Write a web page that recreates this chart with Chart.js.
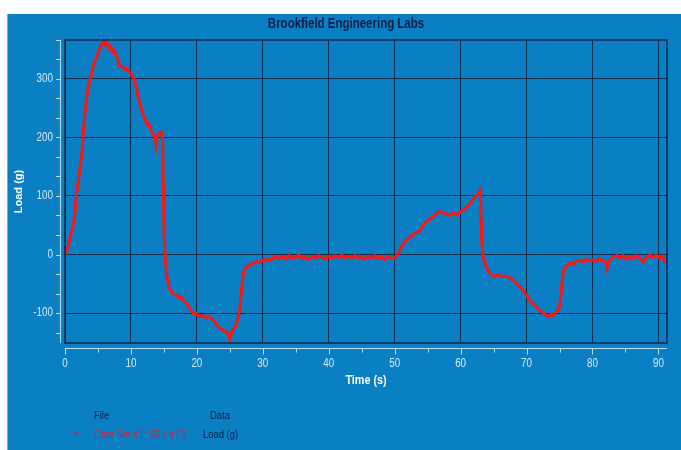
<!DOCTYPE html>
<html>
<head>
<meta charset="utf-8">
<script src="https://cdn.jsdelivr.net/npm/chart.js@4/dist/chart.umd.min.js"></script>
<style>
  html, body { margin: 0; padding: 0; background: #fff; }
  canvas { display: block; }
</style>
</head>
<body>
<canvas id="loadChart" width="681" height="450"></canvas>
<script>
// time (s) and load (g)
const times = [
  0, 0.4, 0.8, 1.2, 1.5, 1.7, 2.0, 2.3, 2.5, 2.8, 3.0, 3.2, 3.5, 3.85, 4.2, 4.5, 4.9, 5.27, 5.5, 5.8,
  6.1, 6.3, 6.6, 6.9, 7.2, 7.5, 7.8, 8.1, 8.3, 8.7, 9.0, 9.3, 9.7, 10.1, 10.4, 10.6, 10.9, 11.1, 11.4, 11.8,
  12.1, 12.4, 12.7, 13.0, 13.35, 13.6, 13.8, 14.0, 14.3, 14.6, 14.8, 14.9, 15.0, 15.1, 15.3, 15.5, 15.8, 16.1, 16.4, 16.9,
  17.3, 17.7, 18.1, 18.5, 18.9, 19.4, 19.8, 20.3, 20.9, 21.4, 21.9, 22.5, 23.0, 23.5, 24.0, 24.5, 24.8, 25.0, 25.3, 25.7,
  26.0, 26.3, 26.5, 26.7, 26.9, 27.1, 27.5, 28.0, 28.5, 29.0, 29.5, 30.0, 30.5, 31.0, 31.5, 32.0,
  32.5, 33, 33.5, 34, 34.5, 35, 35.5, 36, 36.5, 37, 37.5, 38, 38.5, 39, 39.5, 40, 40.5, 41, 41.5, 42,
  42.5, 43, 43.5, 44, 44.5, 45, 45.5, 46, 46.5, 47, 47.5, 48, 48.5, 49, 49.5, 50,
  50.5, 51.0, 51.3, 51.8, 52.3, 52.8, 53.3, 53.8, 54.3, 54.8, 55.3, 55.8, 56.3, 56.9, 57.4, 57.9, 58.4, 58.9, 59.4, 59.9,
  60.4, 60.9, 61.4, 61.9, 62.4, 62.8, 63.0, 63.1, 63.2, 63.4, 63.7, 63.9, 64.3, 64.7, 65.2, 65.6, 66.0, 66.5, 67.0, 67.5,
  68.0, 68.5, 69.0, 69.5, 70.0, 70.5, 71.0, 71.5, 72.0, 72.4, 72.8, 73.3, 73.7, 74.0, 74.3, 74.7, 75.0, 75.2, 75.4, 75.6,
  76.0, 76.6, 77.0, 77.5, 78.1, 78.6, 79.0, 79.5, 80.1, 80.5, 81.0, 81.5, 82.0, 82.2, 82.5, 83.0, 83.7, 84.2, 84.7, 85.2,
  85.7, 86.2, 86.7, 87.2, 87.7, 88.2, 88.7, 89.2, 89.7, 90.2, 90.6, 91.0
];
const loads = [
  0, 10, 30, 47, 70, 98, 125, 150, 164, 210, 240, 260, 285, 300, 318, 329, 340, 351, 358, 363,
  358, 362, 352, 356, 345, 348, 338, 330, 322, 320, 316, 318, 312, 306, 300, 294, 280, 268, 256, 240,
  232, 222, 224, 212, 206, 200, 186, 203, 206, 209, 200, 120, 50, 13, -20, -40, -58, -63, -68, -69,
  -74, -72, -80, -84, -92, -101, -99, -106, -104, -108, -105, -112, -120, -126, -130, -132, -138, -146, -130, -126,
  -118, -105, -95, -70, -45, -30, -21, -18, -15, -12, -14, -10, -8, -11, -6, -4,
  -7, -3, -8, -2, -6, -5, -1, -7, -4, -9, -3, -6, -2, -5, -8, -3, -6, -2, -5, -1,
  -6, -3, -7, -2, -5, -4, -8, -3, -6, -2, -7, -4, -9, -3, -7, -6,
  2, 12, 19, 24, 30, 34, 38, 41, 50, 56, 60, 64, 70, 73, 71, 69, 67, 71, 68, 72,
  76, 81, 87, 94, 101, 106, 110, 60, 24, -4, -15, -21, -30, -35, -38, -34, -36, -38, -37, -41,
  -44, -50, -55, -62, -70, -78, -84, -90, -95, -99, -102, -106, -102, -105, -100, -96, -89, -70, -45, -27,
  -20, -15, -17, -11, -10, -13, -8, -11, -9, -12, -7, -10, -14, -24, -10, -6, -1, -6, -2, -8,
  -4, -7, -2, -6, -13, -4, -1, -5, -1, -6, -3, -15
];

const xTickValues = [0, 10, 20, 30, 40, 50, 60, 70, 80, 90];
const yTickValues = [-100, 0, 100, 200, 300];
const xRange = [0, 91.3];
const yRange = [-151, 366];

const BLUE = '#0b7fc3';
const GRID = '#0c2a4c';
const AXIS = '#bfe0f2';
const TICKTXT = '#d8ecf8';
const NAVY = '#0b1f46';
const FAMILY = '"Liberation Sans", Arial, sans-serif';

// narrow text: Liberation Sans squeezed horizontally (no narrow face installed)
function narrowText(c, text, x, y, align, font, color, sx) {
    c.save();
    c.font = font;
    c.fillStyle = color;
    c.textBaseline = 'middle';
    c.textAlign = align;
    c.translate(x, y);
    c.scale(sx || 0.82, 1);
    c.fillText(text, 0, 0);
    c.restore();
}

const frame = {
    id: 'frame',
    beforeDraw(chart) {
        const c = chart.ctx;
        c.save();
        c.fillStyle = '#ffffff';
        c.fillRect(0, 0, chart.width, chart.height);
        c.fillStyle = BLUE;
        c.fillRect(8, 14, chart.width - 8, chart.height - 14);
        c.strokeStyle = '#9aa7b0';
        c.lineWidth = 1;
        c.beginPath();
        c.moveTo(7.5, 14); c.lineTo(7.5, chart.height);
        c.stroke();
        c.restore();
        narrowText(c, 'Brookfield Engineering Labs', 346, 24, 'center', 'bold 14px ' + FAMILY, NAVY);
    },
    afterDatasetsDraw(chart) {
        const c = chart.ctx;
        const a = chart.chartArea;
        const xs = chart.scales.x, ys = chart.scales.y;
        c.save();
        // plot frame
        c.strokeStyle = GRID;
        c.lineWidth = 1.5;
        c.strokeRect(a.left, a.top, a.right - a.left, a.bottom - a.top);

        // detached y axis line with ticks every 100/3
        c.strokeStyle = AXIS;
        c.lineWidth = 1;
        c.beginPath();
        c.moveTo(60.5, a.top); c.lineTo(60.5, a.bottom);
        for (let k = -4; k <= 11; k++) {
            const py = Math.round(ys.getPixelForValue(k * 100 / 3)) + 0.5;
            if (py < a.top - 1 || py > a.bottom) continue;
            c.moveTo(56, py); c.lineTo(60.5, py);
        }
        // detached x axis line with ticks every 5
        const ay = 348.5;
        c.moveTo(a.left, ay); c.lineTo(a.right, ay);
        for (let t = 0; t <= 90; t += 5) {
            const px = Math.round(xs.getPixelForValue(t)) + 0.5;
            c.moveTo(px, ay); c.lineTo(px, ay + (t % 10 === 0 ? 6 : 4));
        }
        c.stroke();
        c.restore();

        // tick labels from the scales' own ticks
        const tickFont = '12px ' + FAMILY;
        xs.ticks.forEach(t => narrowText(c, String(t.value), xs.getPixelForValue(t.value), 364, 'center', tickFont, TICKTXT));
        ys.ticks.forEach(t => narrowText(c, String(t.value), 53, ys.getPixelForValue(t.value), 'right', tickFont, TICKTXT));

        // axis titles
        narrowText(c, 'Time (s)', (a.left + a.right) / 2, 381, 'center', 'bold 12px ' + FAMILY, '#ffffff', 0.9);
        c.save();
        c.translate(19, (a.top + a.bottom) / 2);
        c.rotate(-Math.PI / 2);
        c.font = 'bold 11px ' + FAMILY;
        c.fillStyle = '#ffffff';
        c.textAlign = 'center';
        c.textBaseline = 'middle';
        c.fillText('Load (g)', 0, 0);
        c.restore();

        // legend table
        const lf = '11.5px ' + FAMILY;
        narrowText(c, 'File', 94, 416, 'left', lf, NAVY);
        narrowText(c, 'Data', 210, 416, 'left', lf, NAVY);
        narrowText(c, '*', 74, 436, 'left', lf, '#d4203c', 1);
        narrowText(c, 'Data Set #1: S2 / a / 2', 94, 435, 'left', lf, '#d4203c');
        narrowText(c, 'Load (g)', 203, 435, 'left', lf, NAVY);
    }
};

const chart = new Chart(document.getElementById('loadChart'), {
    type: 'line',
    data: {
        datasets: [{
            label: 'Load (g)',
            data: times.map((t, i) => ({ x: t, y: loads[i] })),
            borderColor: '#ff1414',
            borderWidth: 3,
            pointRadius: 0,
            tension: 0
        }]
    },
    options: {
        responsive: false,
        animation: false,
        layout: { padding: { top: 40, right: 14, left: 0, bottom: 0 } },
        plugins: { legend: { display: false }, tooltip: { enabled: false } },
        scales: {
            x: {
                type: 'linear',
                min: xRange[0],
                max: xRange[1],
                afterFit: s => { s.height = 107; },
                afterBuildTicks: s => { s.ticks = xTickValues.map(v => ({ value: v })); },
                grid: { color: GRID, lineWidth: 1, drawTicks: false },
                border: { display: false },
                ticks: { display: false }
            },
            y: {
                type: 'linear',
                min: yRange[0],
                max: yRange[1],
                afterFit: s => { s.width = 65; },
                afterBuildTicks: s => { s.ticks = yTickValues.map(v => ({ value: v })); },
                grid: { color: GRID, lineWidth: 1, drawTicks: false },
                border: { display: false },
                ticks: { display: false }
            }
        }
    },
    plugins: [frame]
});
</script>
</body>
</html>
